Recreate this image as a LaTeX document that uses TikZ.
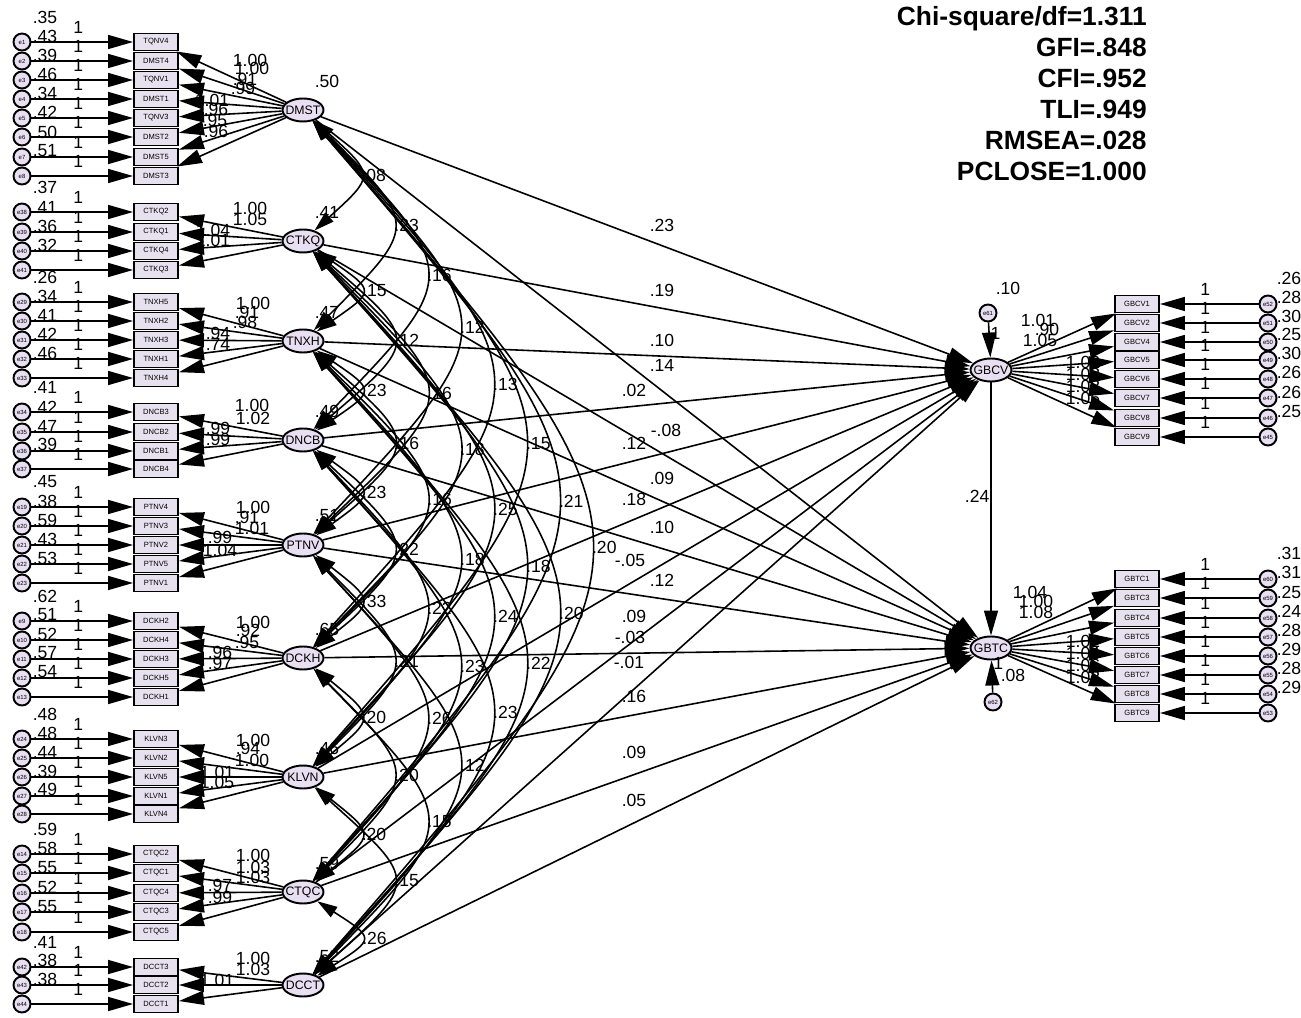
\documentclass[tikz,border=0pt]{standalone}
\usepackage{fontspec}
\setmainfont{Liberation Sans}
\usetikzlibrary{arrows.meta,calc,shapes.geometric}
\definecolor{lav}{HTML}{E9DFF2}
\definecolor{lavbox}{HTML}{E7E1EF}
\tikzset{
  lat/.style  ={ellipse, draw=black, line width=1.1pt, fill=lav,
                minimum width=8.2mm, minimum height=4.6mm, inner sep=0pt,
                font=\fontsize{7}{8}\selectfont},
  ind/.style  ={rectangle, draw=black, line width=1.1pt, fill=lavbox,
                minimum width=8.8mm, minimum height=3.4mm, inner sep=0pt,
                font=\fontsize{4.3}{5}\selectfont},
  err/.style  ={circle, draw=black, line width=1.1pt, fill=lav,
                minimum size=3.4mm, inner sep=0pt,
                font=\fontsize{3.4}{4}\selectfont},
  arr/.style  ={-{Triangle[length=5mm,width=2.8mm]}, line width=0.9pt},
  cov/.style  ={{Triangle[length=4mm,width=2.4mm]}-{Triangle[length=4mm,width=2.4mm]},
                line width=0.9pt},
  lbl/.style  ={font=\fontsize{10}{12}\selectfont, inner sep=0.5pt},
  one/.style  ={lbl, above=1.3mm},
  fitx/.style ={font=\fontsize{15}{17.6}\selectfont\bfseries, align=right,
                inner sep=0pt}
}
\begin{document}
\begin{tikzpicture}[x=0.2mm,y=-0.2mm]
\useasboundingbox (0,0) rectangle (1301,1018);

% fit indices
\node[fitx, anchor=north east] (gof) at (1147,6)
  {Chi-square/df=1.311\\GFI=.848\\CFI=.952\\TLI=.949\\RMSEA=.028\\PCLOSE=1.000};

% exogenous factors
\foreach \f/\y/\v in {DMST/110/.50, CTKQ/241/.41, TNXH/341/.47, DNCB/440/.49,
  PTNV/545/.51, DCKH/658/.65, KLVN/777/.46, CTQC/892/.59, DCCT/985/.52}{
  \node[lat] (\f) at (303,\y) {\makebox[0pt]{\f}};
  \node[lbl] (v\f) at (327,\y-29) {\v};
}

% endogenous factors
\node[lat] (GBCV) at (991,370) {\makebox[0pt]{GBCV}};
\node[lat] (GBTC) at (991,648) {\makebox[0pt]{GBTC}};
\node[err] (e61) at (988,313) {e61};
\node[err] (e62) at (993,702) {e62};
\node[lbl] (ve61) at (1008,288) {.10};
\node[lbl] (ve62) at (1013,675) {.08};
\draw[arr] (e61) -- node[lbl, right, pos=.3]{1} (GBCV);
\draw[arr] (e62) -- node[lbl, right, pos=.9]{1} (GBTC);
\draw[arr] (GBCV) -- node[lbl, left, pos=.45]{.24} (GBTC);

% loading labels (left)
\foreach \lx/\ly/\t [count=\k] in {
  250/60/1.00, 252/68/1.00, 245/79/.91, 243/88/.99, 212/100/1.01, 216/109/.96,
  215/120/.95, 216/131/.96,
  250/208/1.00, 250/219/1.05, 213/230/1.04, 213/240/1.01,
  253/303/1.00, 247/312/.91, 245/322/.98, 218/333/.94, 218/344/.74,
  252/405/1.00, 253/418/1.02, 218/428/.99, 218/439/.99,
  253/507/1.00, 247/517/.91, 252/528/1.01, 220/537/.99, 220/550/1.04,
  253/622/1.00, 248/630/.92, 247/642/.95, 220/652/.96, 220/663/.97,
  253/740/1.00, 248/748/.94, 252/760/1.00, 217/772/1.01, 217/782/1.05,
  253/855/1.00, 253/867/1.03, 253/877/1.03, 220/885/.97, 220/897/.99,
  253/958/1.00, 253/969/1.03, 217/980/1.01}{
  \node[lbl] (ll\k) at (\lx,\ly) {\t};
}

% loading labels (right)
\foreach \lx/\ly/\t [count=\k] in {
  1038/320/1.01, 1047/329/.90, 1040/340/1.05, 1083/362/1.02, 1083/374/1.03,
  1083/386/1.03, 1083/398/1.06,
  1030/592/1.04, 1036/601/1.00, 1036/612/1.08, 1083/641/1.02, 1083/653/1.04,
  1083/665/1.06, 1083/677/1.03}{
  \node[lbl] (lr\k) at (\lx,\ly) {\t};
}

% indicators (left)
\foreach \n/\y/\e/\v/\f in {
  TQNV4/42/e1/.35/DMST, DMST4/61/e2/.43/DMST, TQNV1/80/e3/.39/DMST,
  DMST1/99/e4/.46/DMST, TQNV3/118/e5/.34/DMST, DMST2/137/e6/.42/DMST,
  DMST5/157/e7/.50/DMST, DMST3/176/e8/.51/DMST,
  CTKQ2/212/e38/.37/CTKQ, CTKQ1/232/e39/.41/CTKQ, CTKQ4/251/e40/.36/CTKQ,
  CTKQ3/270/e41/.32/CTKQ,
  TNXH5/302/e29/.26/TNXH, TNXH2/321/e30/.34/TNXH, TNXH3/340/e31/.41/TNXH,
  TNXH1/359/e32/.42/TNXH, TNXH4/378/e33/.46/TNXH,
  DNCB3/412/e34/.41/DNCB, DNCB2/432/e35/.42/DNCB, DNCB1/451/e36/.47/DNCB,
  DNCB4/469/e37/.39/DNCB,
  PTNV4/507/e19/.45/PTNV, PTNV3/526/e20/.38/PTNV, PTNV2/545/e21/.59/PTNV,
  PTNV5/564/e22/.43/PTNV, PTNV1/583/e23/.53/PTNV,
  DCKH2/621/e9/.62/DCKH, DCKH4/640/e10/.51/DCKH, DCKH3/659/e11/.52/DCKH,
  DCKH5/678/e12/.57/DCKH, DCKH1/697/e13/.54/DCKH,
  KLVN3/739/e24/.48/KLVN, KLVN2/758/e25/.48/KLVN, KLVN5/777/e26/.44/KLVN,
  KLVN1/796/e27/.39/KLVN, KLVN4/814/e28/.49/KLVN,
  CTQC2/854/e14/.59/CTQC, CTQC1/873/e15/.58/CTQC, CTQC4/893/e16/.55/CTQC,
  CTQC3/912/e17/.52/CTQC, CTQC5/932/e18/.55/CTQC,
  DCCT3/967/e42/.41/DCCT, DCCT2/985/e43/.38/DCCT, DCCT1/1004/e44/.38/DCCT}{
  \node[lbl] (v\e) at (45,\y-25) {\v};
  \node[err] (\e) at (22,\y) {\e};
  \node[ind] (\n) at (156,\y) {\n};
  \draw[arr] (\e) -- node[one, pos=.46]{1} (\n);
  \draw[arr] (\f) -- (\n);
}

% indicators (right)
\foreach \n/\y/\e/\v/\f in {
  GBCV1/304/e52/.26/GBCV, GBCV2/323/e51/.28/GBCV, GBCV4/342/e50/.30/GBCV,
  GBCV5/360/e49/.25/GBCV, GBCV6/379/e48/.30/GBCV, GBCV7/398/e47/.26/GBCV,
  GBCV8/418/e46/.26/GBCV, GBCV9/437/e45/.25/GBCV,
  GBTC1/579/e60/.31/GBTC, GBTC3/598/e59/.31/GBTC, GBTC4/618/e58/.25/GBTC,
  GBTC5/637/e57/.24/GBTC, GBTC6/656/e56/.28/GBTC, GBTC7/675/e55/.29/GBTC,
  GBTC8/694/e54/.28/GBTC, GBTC9/713/e53/.29/GBTC}{
  \node[lbl] (v\e) at (1289,\y-26) {\v};
  \node[err] (\e) at (1268,\y) {\e};
  \node[ind] (\n) at (1137,\y) {\n};
  \draw[arr] (\e) -- node[one, pos=.54]{1} (\n);
  \draw[arr] (\f) -- (\n);
}

% covariances
\foreach \a/\b/\d/\t in {
  DMST/CTKQ/1/.08, DMST/TNXH/2/.23, DMST/DNCB/3/.16, DMST/PTNV/4/.12,
  DMST/DCKH/5/.13, DMST/KLVN/6/.15, DMST/CTQC/7/.21, DMST/DCCT/8/.20,
  CTKQ/TNXH/1/.15, CTKQ/DNCB/2/.12, CTKQ/PTNV/3/.16, CTKQ/DCKH/4/.18,
  CTKQ/KLVN/5/.25, CTKQ/CTQC/6/.18, CTKQ/DCCT/7/.20,
  TNXH/DNCB/1/.23, TNXH/PTNV/2/.16, TNXH/DCKH/3/.16, TNXH/KLVN/4/.18,
  TNXH/CTQC/5/.24, TNXH/DCCT/6/.22,
  DNCB/PTNV/1/.23, DNCB/DCKH/2/.22, DNCB/KLVN/3/.22, DNCB/CTQC/4/.23,
  DNCB/DCCT/5/.23,
  PTNV/DCKH/1/.33, PTNV/KLVN/2/.21, PTNV/CTQC/3/.26, PTNV/DCCT/4/.12,
  DCKH/KLVN/1/.20, DCKH/CTQC/2/.20, DCKH/DCCT/3/.15,
  KLVN/CTQC/1/.20, KLVN/DCCT/2/.15,
  CTQC/DCCT/1/.26}{
  \draw[cov] (\a) .. controls ($(\a)!.5!(\b)+(28+44*\d,0)$) ..
    node[lbl, right, pos=.5]{\t} (\b);
}

% structural paths
\foreach \f in {DMST,CTKQ,TNXH,DNCB,PTNV,DCKH,KLVN,CTQC,DCCT}{
  \draw[arr] (\f) -- (GBCV);
  \draw[arr] (\f) -- (GBTC);
}
\foreach \lx/\ly/\t [count=\k] in {
  662/225/.23, 662/290/.19, 662/340/.10, 662/365/.14, 634/390/.02,
  666/430/-.08, 634/443/.12, 662/478/.09, 634/499/.18, 662/527/.10,
  630/560/-.05, 662/580/.12, 634/616/.09, 630/637/-.03, 629/662/-.01,
  634/696/.16, 634/752/.09, 634/800/.05}{
  \node[lbl] (pl\k) at (\lx,\ly) {\t};
}
\end{tikzpicture}
\end{document}
